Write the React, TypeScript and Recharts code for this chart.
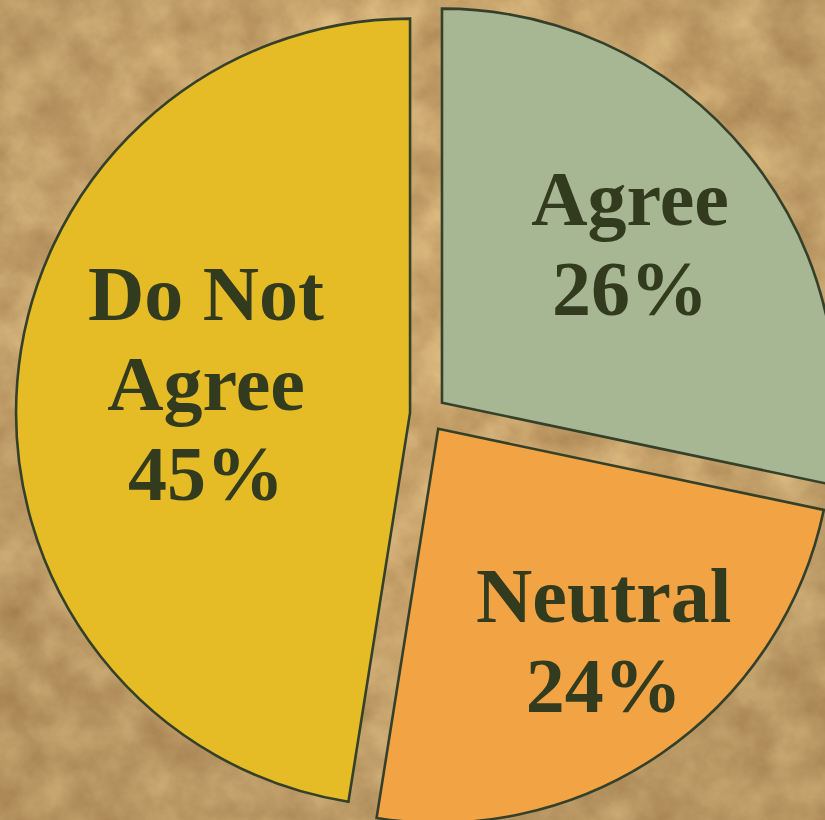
import React from "react";
import { PieChart, Pie, Cell, Sector } from "recharts";

// ---- data ----
const categories = ["Agree", "Neutral", "Do Not Agree"];
const sliceShares = [28.3, 24.2, 47.5];
const percentLabels = ["26%", "24%", "45%"];
const nameLines = [["Agree"], ["Neutral"], ["Do Not", "Agree"]];

// ---- style ----
const COLORS = ["#a7b693", "#f2a444", "#e6bc26"];
const STROKE = "#34402a";
const TEXT = "#333b1f";
const EXPLODE = 18;
const LABEL_R = [264, 287, 224];
const LABEL_ANGLE_SHIFT = [1, 3.2, -3.2];
const LINE_H = 90;
const FONT_SIZE = 78;
const RAD = Math.PI / 180;

const tableData = categories.map((name, i) => ({
  name,
  value: sliceShares[i],
  lines: [...nameLines[i], percentLabels[i]],
}));

const ExplodedSector = (props: any) => {
  const { cx, cy, midAngle } = props;
  const dx = Math.cos(-midAngle * RAD) * EXPLODE;
  const dy = Math.sin(-midAngle * RAD) * EXPLODE;
  return <Sector {...props} cx={cx + dx} cy={cy + dy} />;
};

const renderLabel = (props: any) => {
  const { cx, cy, midAngle, index } = props;
  const a = (midAngle + LABEL_ANGLE_SHIFT[index]) * RAD;
  const r = LABEL_R[index];
  const x = cx + Math.cos(-a) * r;
  const y = cy + Math.sin(-a) * r;
  const lines: string[] = tableData[index].lines;
  const n = lines.length;
  return (
    <text
      key={`lbl-${index}`}
      x={x}
      y={y}
      textAnchor="middle"
      fill={TEXT}
      fontFamily="'Liberation Serif', 'DejaVu Serif', serif"
      fontWeight="bold"
      fontSize={FONT_SIZE}
    >
      {lines.map((t, i) => (
        <tspan key={i} x={x} y={y + (i - (n - 1) / 2) * LINE_H + 26}>
          {t}
        </tspan>
      ))}
    </text>
  );
};

const Parchment = () => (
  <svg width={825} height={820} style={{ position: "absolute", left: 0, top: 0 }}>
    <defs>
      <filter id="parch" x="0" y="0" width="100%" height="100%" colorInterpolationFilters="sRGB">
        <feTurbulence type="fractalNoise" baseFrequency="0.022" numOctaves={5} seed={7} />
        <feColorMatrix
          type="matrix"
          values="0.24 0 0 0 0.67  0.26 0 0 0 0.52  0.22 0 0 0 0.32  0 0 0 0 1"
        />
      </filter>
      <radialGradient id="vign" cx="50%" cy="40%" r="75%">
        <stop offset="0.5" stopColor="#000" stopOpacity={0} />
        <stop offset="1" stopColor="#4a3010" stopOpacity={0.16} />
      </radialGradient>
    </defs>
    <rect x={0} y={0} width={825} height={820} filter="url(#parch)" />
    <rect x={0} y={0} width={825} height={820} fill="url(#vign)" />
  </svg>
);

export default function App() {
  return (
    <div
      style={{
        position: "absolute",
        left: 0,
        top: 0,
        width: 825,
        height: 820,
        overflow: "hidden",
        background: "#c9a56c",
      }}
    >
      <Parchment />
      <div style={{ position: "absolute", left: 0, top: 0 }}>
        <PieChart width={825} height={820} margin={{ top: 0, right: 0, bottom: 0, left: 0 }}>
          <Pie
            data={tableData}
            dataKey="value"
            nameKey="name"
            cx={428}
            cy={414}
            innerRadius={0}
            outerRadius={394}
            startAngle={90}
            endAngle={-270}
            isAnimationActive={false}
            shape={ExplodedSector}
            label={renderLabel}
            labelLine={false}
            stroke={STROKE}
            strokeWidth={2.6}
          >
            {tableData.map((d, i) => (
              <Cell key={d.name} fill={COLORS[i]} stroke={STROKE} strokeWidth={2.6} />
            ))}
          </Pie>
        </PieChart>
      </div>
    </div>
  );
}
